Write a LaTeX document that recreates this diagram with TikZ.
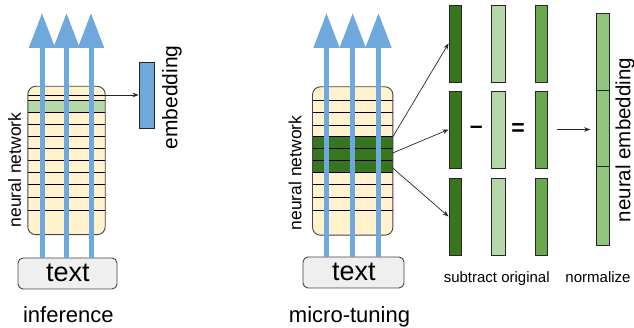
\documentclass[tikz,border=0pt]{standalone}
\usepackage{fontspec}
\setmainfont{Liberation Sans}
\usetikzlibrary{arrows.meta,calc}
\definecolor{cream}{HTML}{FFF2CC}
\definecolor{lgreen}{HTML}{B6D7A8}
\definecolor{dgreen}{HTML}{38761D}
\definecolor{mgreen}{HTML}{6AA84F}
\definecolor{ngreen}{HTML}{93C47D}
\definecolor{ablue}{HTML}{6FA8DC}
\definecolor{tgray}{HTML}{EFEFEF}
\definecolor{bord}{HTML}{444444}
\begin{document}
\begin{tikzpicture}[x=1pt,y=-1pt,
  netfill/.style={fill=cream, draw=none, rounded corners=8pt, inner sep=0pt, minimum height=148pt},
  netline/.style={draw=bord, line width=0.9pt, rounded corners=8pt},
  layerline/.style={draw=black, line width=0.9pt},
  bluearrow/.style={draw=ablue, line width=5pt, -{Triangle[width=25pt,length=35pt]}},
  textbox/.style={draw=bord, fill=tgray, rounded corners=5pt, line width=0.9pt, inner sep=0pt, minimum height=31pt},
  textlabel/.style={font=\fontsize{27}{30}\selectfont, anchor=base, inner sep=0pt},
  col/.style={draw=black!85, line width=0.8pt, inner sep=0pt},
  thinarrow/.style={draw=black!85, line width=0.7pt, -{Stealth[length=6pt,width=4.5pt]}},
  titlecap/.style={font=\fontsize{22}{26}\selectfont, anchor=base, inner sep=0pt},
  smallcap/.style={font=\fontsize{15}{18}\selectfont, anchor=base, inner sep=0pt},
  sidecap/.style={rotate=90, inner sep=0pt},
]
\useasboundingbox (0,0) rectangle (634,328);

% ---------- left: inference ----------
\node[netfill, minimum width=77pt] (netA) at (66.5,160.5) {};
\fill[lgreen] (28,100) rectangle (105,112);
\foreach \yy in {95,100,112,124,136,148,160,172.5,184.5,197,210}
  \draw[layerline] (28,\yy) -- (105,\yy);
\draw[netline] (netA.north west) rectangle (netA.south east);

\node[textbox, minimum width=99pt] (tA) at (67.5,273.5) {};
\node[textlabel] (tAl) at (67.8,281.5) {text};
\coordinate (a1) at (42,13);
\coordinate (a2) at (66.5,13);
\coordinate (a3) at (91,13);
\foreach \c in {a1,a2,a3}
  \draw[bluearrow] (tA.north -| \c) -- (\c);

\node[col, fill=ablue, minimum width=15pt, minimum height=66pt] (emb) at (146.5,95) {};
\draw[thinarrow] (netA.east |- emb.west) -- (emb.west);
\node[sidecap, font=\fontsize{21}{24}\selectfont] (embl) at (172,97.5) {embedding};
\node[sidecap, font=\fontsize{17.5}{20}\selectfont] (nnA) at (14.5,170) {neural network};
\node[titlecap] (inf) at (68.3,323) {inference};

% ---------- middle: micro-tuning ----------
\node[netfill, minimum width=80pt] (netB) at (352.7,161) {};
\fill[dgreen] (312.7,136) rectangle (392.7,172.7);
\foreach \yy in {100,112.5,125,136,148,160,172.7,184.5,197,210}
  \draw[layerline] (312.7,\yy) -- (392.7,\yy);
\draw[netline] (netB.north west) rectangle (netB.south east);

\node[textbox, minimum width=101pt] (tB) at (353.5,272.5) {};
\node[textlabel] (tBl) at (353.8,281) {text};
\coordinate (b1) at (326.5,13);
\coordinate (b2) at (352.7,13);
\coordinate (b3) at (378.5,13);
\foreach \c in {b1,b2,b3}
  \draw[bluearrow] (tB.north -| \c) -- (\c);
\node[sidecap, font=\fontsize{17.5}{20}\selectfont] (nnB) at (295,173) {neural network};
\node[titlecap] (mt) at (349.5,323) {micro-tuning};

% ---------- right: columns ----------
\foreach \n/\yc in {1/43.5,2/129.5,3/216.5}{
  \node[col, fill=dgreen, minimum width=12.7pt, minimum height=77pt] (c1\n) at (455.3,\yc) {};
  \node[col, fill=lgreen, minimum width=13.3pt, minimum height=77pt] (c2\n) at (498.3,\yc) {};
  \node[col, fill=mgreen, minimum width=12.7pt, minimum height=77pt] (c3\n) at (541.3,\yc) {};
}
\node[col, fill=ngreen, minimum width=12.7pt, minimum height=77pt] (c41) at (603,51.5) {};
\node[col, fill=ngreen, minimum width=12.7pt, minimum height=76.7pt] (c42) at (603,128.35) {};
\node[col, fill=ngreen, minimum width=12.7pt, minimum height=78.3pt] (c43) at (603,205.85) {};

\coordinate (s1) at (392.7,137);
\coordinate (s2) at (392.7,153);
\coordinate (s3) at (392.7,168);
\draw[thinarrow] (s1) -- (c11.west);
\draw[thinarrow] (s2) -- (c12.west);
\draw[thinarrow] (s3) -- (c13.west);

\node[font=\fontsize{23}{26}\selectfont\bfseries, anchor=base, inner sep=0pt] (minus) at (476.3,133.6) {–};
\node[font=\fontsize{23}{26}\selectfont\bfseries, anchor=base, inner sep=0pt] (eq) at (518,135.2) {=};
\draw[thinarrow, shorten <=8.5pt, shorten >=6pt] (c32.east) -- (c42.west |- c32.east);

\node[sidecap, font=\fontsize{20.5}{24}\selectfont] (ne) at (625,140) {neural embedding};
\node[smallcap] (sub) at (496.7,282.5) {subtract original};
\node[smallcap] (norm) at (598,282.5) {normalize};
\end{tikzpicture}
\end{document}
